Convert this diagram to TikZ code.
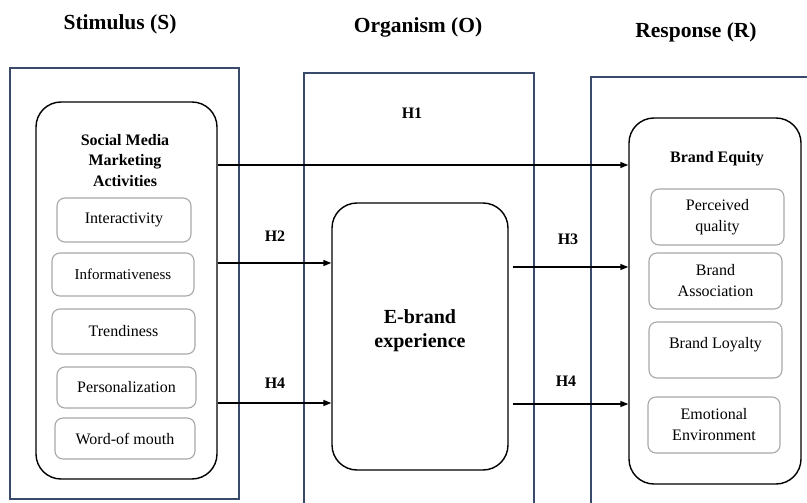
\documentclass[tikz,border=0pt]{standalone}
\usepackage{fontspec}
\setmainfont{LiberationSerif}[Extension=.ttf,UprightFont=*-Regular,BoldFont=*-Bold,ItalicFont=*-Italic,BoldItalicFont=*-BoldItalic]
\usetikzlibrary{arrows.meta}
\definecolor{navy}{HTML}{3A4A6B}
\definecolor{subgray}{HTML}{A8A8A8}
\begin{document}
\begin{tikzpicture}[x=1pt,y=-1pt,
  outerbox/.style={draw=navy,line width=1.1pt},
  mainbox/.style={draw=black,line width=1.4pt,rounded corners=25pt,fill=white,inner sep=0pt},
  subbox/.style={draw=subgray,line width=1.1pt,rounded corners=8pt,align=center,font=\fontsize{16}{21}\selectfont,inner sep=0pt},
  htitle/.style={font=\bfseries\fontsize{21.5}{26}\selectfont},
  hlabel/.style={font=\bfseries\fontsize{16}{20}\selectfont},
  link/.style={line width=1.5pt,-{Triangle[length=8pt,width=6pt]}},
]
\useasboundingbox (0,0) rectangle (807,503);
\clip (0,0) rectangle (807,503);

% titles
\node[htitle] (ts) at (120,24) {Stimulus (S)};
\node[htitle] (to) at (418,27) {Organism (O)};
\node[htitle] (tr) at (696,32) {Response (R)};

% outer boxes
\draw[outerbox] (10,68) rectangle (239,499);
\draw[outerbox] (304,73) rectangle (534,530);
\draw[outerbox] (591,77) rectangle (830,530);

% stimulus
\node[mainbox,minimum width=181pt,minimum height=377pt] (smma) at (126.5,290.5) {};
\node[font=\bfseries\fontsize{16}{20.5}\selectfont,align=center] (smmat) at (125,160.5) {Social Media\\Marketing\\Activities};
\node[subbox,minimum width=134pt,minimum height=44pt] (int) at (124,220) {Interactivity};
\node[subbox,minimum width=142pt,minimum height=43pt,font=\fontsize{15}{20}\selectfont] (inf) at (123,274.5) {Informativeness};
\node[subbox,minimum width=143pt,minimum height=45pt] (tre) at (123.5,331.5) {Trendiness};
\node[subbox,minimum width=139pt,minimum height=41pt] (per) at (126.5,387.5) {Personalization};
\node[subbox,minimum width=140pt,minimum height=41pt] (wom) at (125,438.5) {Word-of mouth};

% organism
\node[mainbox,minimum width=176pt,minimum height=267pt] (eb) at (420,336.5) {};
\node[font=\bfseries\fontsize{20}{24}\selectfont,align=center] (ebt) at (420,331) {E-brand\\experience};

% response
\node[mainbox,minimum width=172pt,minimum height=366pt] (be) at (715,301) {};
\node[font=\bfseries\fontsize{16}{20}\selectfont] (bet) at (717,159) {Brand Equity};
\node[subbox,minimum width=133pt,minimum height=56pt] (pq) at (717.5,217) {Perceived\\quality};
\node[subbox,minimum width=133pt,minimum height=56pt] (ba) at (715.5,281) {Brand\\Association};
\node[subbox,minimum width=133pt,minimum height=56pt,text depth=14pt] (bl) at (715.5,350) {Brand Loyalty};
\node[subbox,minimum width=132pt,minimum height=56pt] (ee) at (714,425) {Emotional\\Environment};

% arrows
\draw[link] (smma.east |- 0,165) -- (be.west |- 0,165);
\draw[link] (smma.east |- 0,263) -- (eb.west |- 0,263);
\draw[link] (smma.east |- 0,403) -- (eb.west |- 0,403);
\draw[link,shorten <=4pt] (eb.east |- 0,267) -- (be.west |- 0,267);
\draw[link,shorten <=4pt] (eb.east |- 0,404) -- (be.west |- 0,404);

% labels
\node[hlabel] (h1) at (412,113) {H1};
\node[hlabel] (h2) at (275,236) {H2};
\node[hlabel] (h4a) at (275,383) {H4};
\node[hlabel] (h3) at (568,239) {H3};
\node[hlabel] (h4b) at (566,381) {H4};
\end{tikzpicture}
\end{document}
